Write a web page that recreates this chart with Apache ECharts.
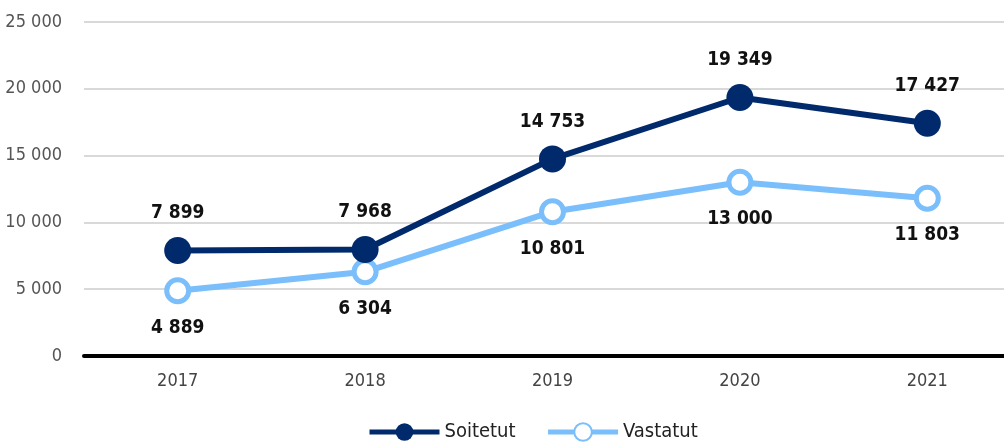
<!DOCTYPE html>
<html>
<head>
<meta charset="utf-8">
<script src="https://cdn.jsdelivr.net/npm/echarts@6/dist/echarts.min.js"></script>
<style>
  html, body { margin: 0; padding: 0; background: #fff; }
  #chart { width: 1004px; height: 443px; }
</style>
</head>
<body>
<div id="chart"></div>
<script>
const years = ['2017', '2018', '2019', '2020', '2021']
const soitetut = [7899, 7968, 14753, 19349, 17427]
const vastatut = [4889, 6304, 10801, 13000, 11803]

const font = '"Liberation Sans Narrow", "DejaVu Sans Condensed", sans-serif'
const fmt = (v) => String(v).replace(/\B(?=(\d{3})+(?!\d))/g, ' ')

const chart = echarts.init(document.getElementById('chart'))

chart.setOption({
  animation: false,
  textStyle: { fontFamily: font },
  legend: {
    bottom: -4,
    left: 362,
    itemWidth: 70,
    itemHeight: 22,
    itemGap: 30,
    textStyle: { fontFamily: font, fontSize: 20, color: '#222' },
    lineStyle: { width: 5 },
    data: ['Soitetut', 'Vastatut']
  },
  grid: {
    left: 84,
    width: 937,
    top: 22,
    bottom: 87,
    outerBoundsMode: 'none'
  },
  xAxis: {
    type: 'category',
    data: years,
    axisTick: { show: false },
    axisLine: { lineStyle: { color: '#000', width: 4 } },
    axisLabel: { color: '#444', fontSize: 18, fontFamily: font, margin: 16 }
  },
  yAxis: {
    type: 'value',
    min: 0,
    max: 25000,
    interval: 5000,
    axisLabel: {
      color: '#555',
      fontSize: 18,
      fontFamily: font,
      margin: 22,
      formatter: fmt
    },
    splitLine: { lineStyle: { color: '#d9d9d9', width: 2 } }
  },
  series: [
    {
      name: 'Soitetut',
      type: 'line',
      data: soitetut,
      symbol: 'circle',
      symbolSize: 27,
      lineStyle: { color: '#002a6c', width: 6 },
      itemStyle: { color: '#002a6c' },
      label: {
        show: true,
        position: 'top',
        distance: 14,
        fontFamily: font,
        fontSize: 19,
        fontWeight: 'bold',
        color: '#111',
        formatter: (p) => fmt(p.value)
      },
      z: 3
    },
    {
      name: 'Vastatut',
      type: 'line',
      data: vastatut,
      symbol: 'circle',
      symbolSize: 22,
      lineStyle: { color: '#7abffb', width: 6 },
      itemStyle: { color: '#fff', borderColor: '#7abffb', borderWidth: 5 },
      label: {
        show: true,
        position: 'bottom',
        distance: 14,
        fontFamily: font,
        fontSize: 19,
        fontWeight: 'bold',
        color: '#111',
        formatter: (p) => fmt(p.value)
      },
      z: 2
    }
  ]
})
</script>
</body>
</html>
